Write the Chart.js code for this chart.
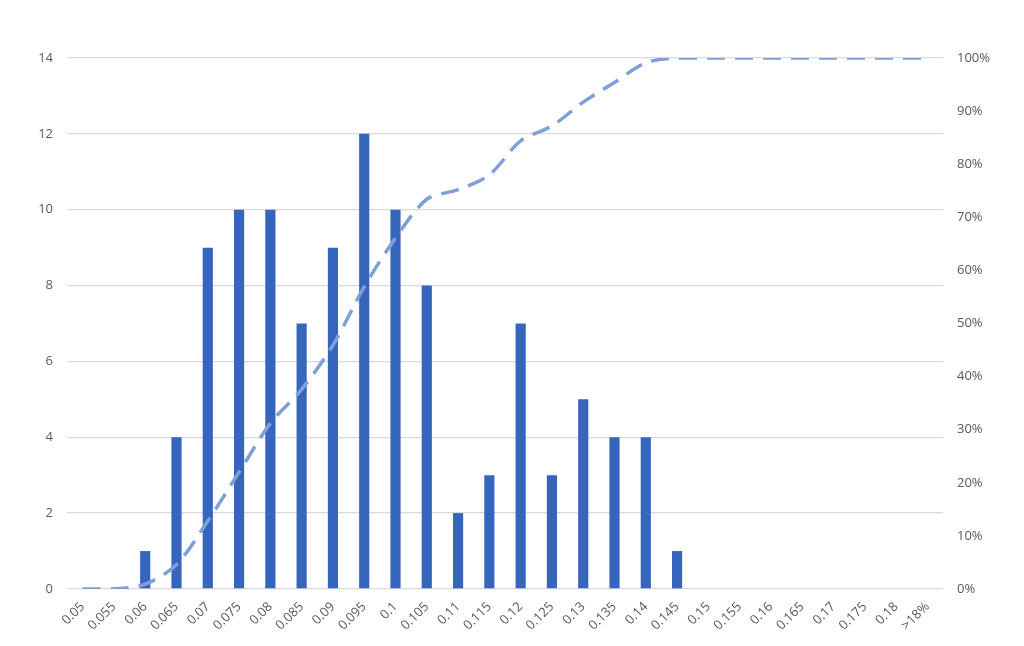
<!DOCTYPE html>
<html>
<head>
<meta charset="utf-8">
<script src="https://cdn.jsdelivr.net/npm/chart.js@4"></script>
<style>
  html, body { margin: 0; padding: 0; background: #fff; }
  #wrap { width: 1024px; height: 646px; }
</style>
</head>
<body>
<div id="wrap"><canvas id="chart" width="1024" height="646"></canvas></div>
<script>
// bins
const categories = ['0.05','0.055','0.06','0.065','0.07','0.075','0.08','0.085','0.09','0.095',
  '0.1','0.105','0.11','0.115','0.12','0.125','0.13','0.135','0.14','0.145',
  '0.15','0.155','0.16','0.165','0.17','0.175','0.18','>18%'];
// frequency per bin
const frequency = [0,0,1,4,9,10,10,7,9,12,10,8,2,3,7,3,5,4,4,1,0,0,0,0,0,0,0,0];
// cumulative %
const cumulative = [0,0,0.9,4.6,12.8,22.0,31.2,37.6,45.9,56.9,66.1,73.4,75.2,78.0,84.4,87.2,91.7,95.4,99.1,100,
  100,100,100,100,100,100,100,100];

const tickFont = { family: '"Open Sans", "Noto Sans", sans-serif', size: 13 };
const tickColor = '#595959';

new Chart(document.getElementById('chart'), {
  data: {
    labels: categories,
    datasets: [
      {
        type: 'line',
        data: cumulative,
        yAxisID: 'y2',
        borderColor: '#7f9fd8',
        borderWidth: 3.5,
        borderDash: [18, 10],
        pointRadius: 0,
        tension: 0.3,
        order: 0
      },
      {
        type: 'bar',
        data: frequency,
        yAxisID: 'y',
        backgroundColor: '#3565bd',
        barPercentage: 0.65,
        categoryPercentage: 0.5,
        order: 1
      }
    ]
  },
  options: {
    responsive: false,
    animation: false,
    layout: { padding: { top: 58, left: 0, right: 0, bottom: 0 } },
    plugins: { legend: { display: false }, tooltip: { enabled: false } },
    scales: {
      x: {
        grid: { display: false },
        border: { display: false },
        ticks: { color: tickColor, font: tickFont, minRotation: 45, maxRotation: 45, autoSkip: false, padding: 2 },
        afterFit: (s) => { s.height = 57; }
      },
      y: {
        position: 'left',
        min: 0, max: 14,
        ticks: { stepSize: 2, color: tickColor, font: tickFont, padding: 14 },
        grid: { color: '#d9d9d9', lineWidth: 1.3, drawTicks: false },
        border: { display: false },
        afterFit: (s) => { s.width = 67; }
      },
      y2: {
        position: 'right',
        min: 0, max: 100,
        ticks: { stepSize: 10, color: tickColor, font: tickFont, padding: 14, callback: (v) => v + '%' },
        grid: { display: false, drawTicks: false },
        border: { display: false },
        afterFit: (s) => { s.width = 81; }
      }
    }
  }
});
</script>
</body>
</html>
